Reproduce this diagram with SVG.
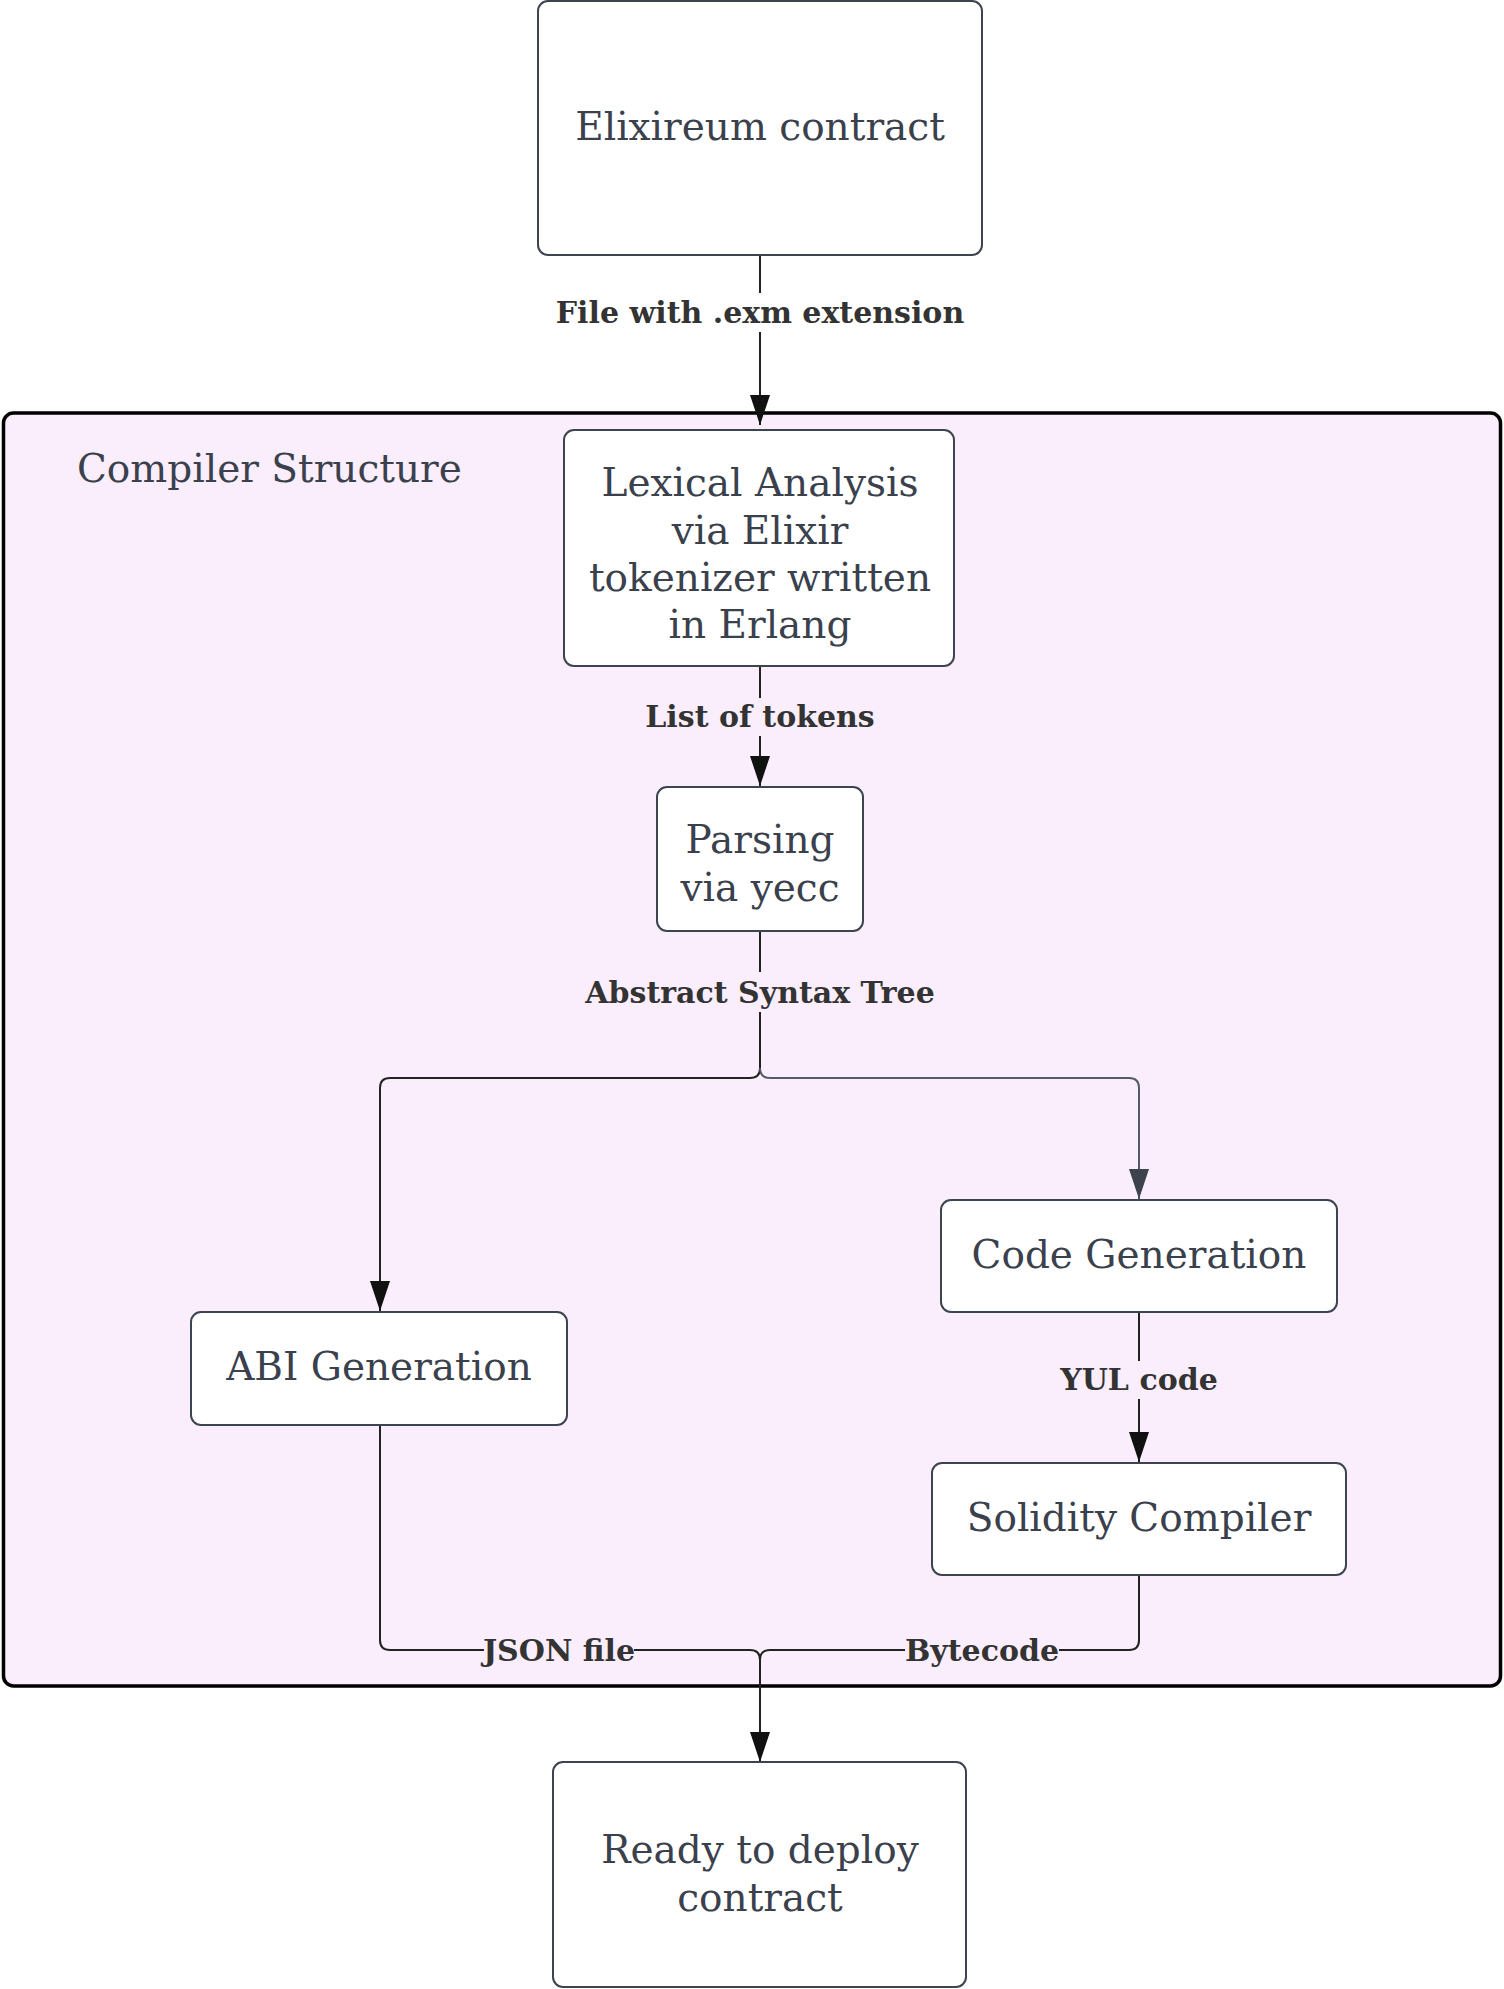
<svg xmlns="http://www.w3.org/2000/svg" width="1504" height="1989" viewBox="0 0 1504 1989">
<defs>
<style>
.node rect{fill:#ffffff;stroke:#3d4450;stroke-width:2}
.nt{font-family:"DejaVu Serif","Liberation Serif",serif;font-size:39px;fill:#3a414c;text-anchor:middle}
.lbl{font-family:"DejaVu Serif","Liberation Serif",serif;font-size:30px;font-weight:bold;fill:#333333;text-anchor:middle}
.edge{fill:none;stroke:#222222;stroke-width:2}
.edge2{fill:none;stroke:#555a66;stroke-width:2}
</style>
<marker id="ah" viewBox="0 0 30 20" refX="30" refY="10" markerWidth="30" markerHeight="20" markerUnits="userSpaceOnUse" orient="auto">
<path d="M0,0 L30,10 L0,20 Z" fill="#111111"/>
</marker>
<marker id="ah2" viewBox="0 0 30 20" refX="30" refY="10" markerWidth="30" markerHeight="20" markerUnits="userSpaceOnUse" orient="auto">
<path d="M0,0 L30,10 L0,20 Z" fill="#3d434d"/>
</marker>
</defs>
<rect width="1504" height="1989" fill="#ffffff"/>

<g id="cluster-compiler">
<rect x="3.5" y="413" width="1497" height="1273" rx="10" fill="#faeefd" stroke="#000000" stroke-width="3.5"/>
<text x="77" y="482" font-family="DejaVu Serif, Liberation Serif, serif" font-size="39" fill="#3a414c">Compiler Structure</text>
</g>

<g id="connectors">
<path class="edge" d="M760,256 V425" marker-end="url(#ah)"/>
<path class="edge" d="M760,666 V786" marker-end="url(#ah)"/>
<path class="edge" d="M760,931 V1068 Q760,1078 750,1078 H390 Q380,1078 380,1088 V1311" marker-end="url(#ah)"/>
<path class="edge2" d="M760,1068 Q760,1078 770,1078 H1129 Q1139,1078 1139,1088 V1199" marker-end="url(#ah2)"/>
<path class="edge" d="M1139,1312 V1462" marker-end="url(#ah)"/>
<path class="edge" d="M380,1425 V1640 Q380,1650 390,1650 H750 Q760,1650 760,1660 V1762" marker-end="url(#ah)"/>
<path class="edge" d="M1139,1575 V1640 Q1139,1650 1129,1650 H770 Q760,1650 760,1660"/>
<g id="edge-labels">
<rect x="550" y="293" width="420" height="39" fill="#ffffff"/>
<text class="lbl" x="760" y="323">File with .exm extension</text>
<rect x="644" y="698" width="232" height="38" fill="#faeefd"/>
<text class="lbl" x="760" y="727">List of tokens</text>
<rect x="580" y="972" width="360" height="40" fill="#faeefd"/>
<text class="lbl" x="760" y="1003">Abstract Syntax Tree</text>
<rect x="1062" y="1361" width="154" height="38" fill="#faeefd"/>
<text class="lbl" x="1139" y="1390">YUL code</text>
<rect x="484" y="1632" width="150" height="36" fill="#faeefd"/>
<text class="lbl" x="559" y="1661">JSON file</text>
<rect x="905" y="1632" width="154" height="36" fill="#faeefd"/>
<text class="lbl" x="982" y="1661">Bytecode</text>
</g>
</g>

<g id="node-elixireum" class="node">
<rect x="538" y="1" width="444" height="254" rx="10"/>
<text class="nt" x="760" y="140">Elixireum contract</text>
</g>
<g id="node-lexical" class="node">
<rect x="564" y="430" width="390" height="236" rx="10"/>
<text class="nt" x="760" y="496">Lexical Analysis</text>
<text class="nt" x="760" y="544">via Elixir</text>
<text class="nt" x="760" y="591">tokenizer written</text>
<text class="nt" x="760" y="638">in Erlang</text>
</g>
<g id="node-parsing" class="node">
<rect x="657" y="787" width="206" height="144" rx="10"/>
<text class="nt" x="760" y="853">Parsing</text>
<text class="nt" x="760" y="901">via yecc</text>
</g>
<g id="node-abi" class="node">
<rect x="191" y="1312" width="376" height="113" rx="10"/>
<text class="nt" x="379" y="1380">ABI Generation</text>
</g>
<g id="node-codegen" class="node">
<rect x="941" y="1200" width="396" height="112" rx="10"/>
<text class="nt" x="1139" y="1268">Code Generation</text>
</g>
<g id="node-solidity" class="node">
<rect x="932" y="1463" width="414" height="112" rx="10"/>
<text class="nt" x="1139" y="1531">Solidity Compiler</text>
</g>
<g id="node-ready" class="node">
<rect x="553" y="1762" width="413" height="225" rx="10"/>
<text class="nt" x="760" y="1863">Ready to deploy</text>
<text class="nt" x="760" y="1911">contract</text>
</g>
</svg>
